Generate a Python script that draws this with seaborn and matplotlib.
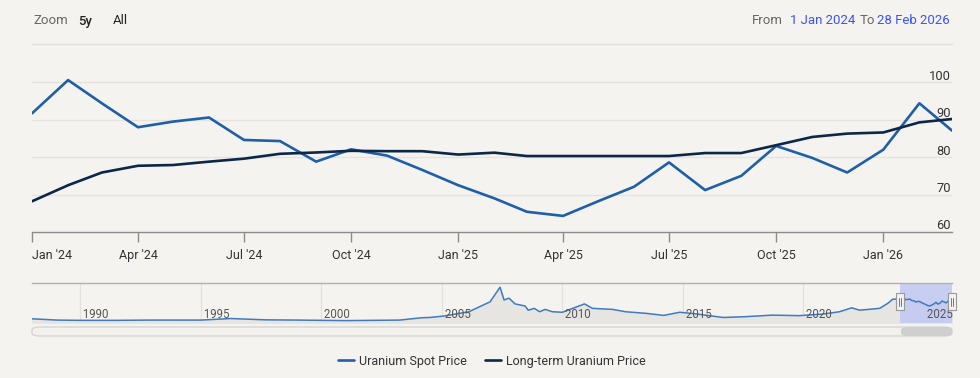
import matplotlib
matplotlib.use("Agg")
import matplotlib.pyplot as plt
import matplotlib.dates as mdates
import matplotlib.transforms as mtransforms
from matplotlib.patches import FancyBboxPatch, Rectangle
import seaborn as sns
import pandas as pd
import numpy as np

# ---------------- data ----------------
months = pd.date_range("2024-01-01", "2026-03-01", freq="MS")
spot_price = [91.7, 100.6, 94.4, 88.0, 89.5, 90.6, 84.6, 84.3, 78.8, 82.1, 80.4, 76.6,
              72.5, 69.0, 65.4, 64.3, 68.2, 72.1, 78.6, 71.2, 75.0, 83.0, 79.8, 75.9,
              82.0, 94.4, 87.1]
long_term_price = [68.2, 72.5, 75.9, 77.7, 77.9, 78.8, 79.6, 80.9, 81.25, 81.7, 81.6, 81.6,
                   80.7, 81.2, 80.3, 80.3, 80.3, 80.3, 80.3, 81.1, 81.1, 83.2, 85.4, 86.3,
                   86.6, 89.3, 90.2]
series_names = ["Uranium Spot Price", "Long-term Uranium Price"]
series_colors = ["#1f5fa8", "#0c2747"]

xtick_dates = pd.date_range("2024-01-01", "2026-01-01", freq="QS")
xtick_labels = ["Jan '24", "Apr '24", "Jul '24", "Oct '24", "Jan '25", "Apr '25",
                "Jul '25", "Oct '25", "Jan '26"]
ytick_values = [60, 70, 80, 90, 100]

# navigator (long history of spot price)
nav_dates = ["1988-01-01", "1989-01-15", "1990-01-01", "1991-06-01", "1992-11-01",
             "1995-01-01", "1996-04-01", "1997-09-01", "1999-01-15", "2001-01-01",
             "2003-04-01", "2004-03-01", "2004-07-01", "2005-01-15", "2006-02-15",
             "2007-01-01", "2007-06-01", "2007-08-01", "2007-10-15", "2008-01-15",
             "2008-06-15", "2008-08-01", "2008-11-01", "2009-01-20", "2009-04-15",
             "2009-08-01", "2010-01-01", "2010-12-01", "2011-04-01", "2012-02-01",
             "2012-08-15", "2013-06-15", "2014-03-15", "2014-11-15", "2015-07-15",
             "2016-09-01", "2017-08-01", "2018-09-15", "2019-11-01", "2020-10-15",
             "2021-07-01", "2022-01-01", "2022-05-01", "2023-03-01", "2023-07-01",
             "2023-09-15", "2023-12-15"]
nav_values = [15, 10, 9, 9, 10, 10, 16, 11, 10, 8,
              10, 19, 20, 25, 42, 80, 136, 87, 94, 72,
              64, 48, 55, 42, 51, 42, 40, 72, 55, 51,
              42, 36, 28, 40, 34, 20, 23, 29, 27, 33,
              42, 57, 48, 55, 74, 90, 91]
nav_year_ticks = [1990, 1995, 2000, 2005, 2010, 2015, 2020, 2025]

# ---------------- style ----------------
BG = "#f4f3ef"
sns.set_theme(style="white")
plt.rcParams["font.family"] = ["Roboto", "DejaVu Sans"]
plt.rcParams["figure.facecolor"] = BG
plt.rcParams["axes.facecolor"] = BG

W, H = 980, 378
fig = plt.figure(figsize=(W / 100, H / 100), dpi=100)
fig.patch.set_facecolor(BG)

def fx(px):
    return px / W

def fy(py):
    return 1 - py / H

# ---------------- main axes ----------------
ax = fig.add_axes([fx(32), fy(232), fx(952) - fx(32), fy(64) - fy(232)])
ax.set_facecolor(BG)

df = pd.DataFrame({
    "date": list(months) * 2,
    "price": spot_price + long_term_price,
    "series": [series_names[0]] * len(months) + [series_names[1]] * len(months),
})
sns.lineplot(data=df, x="date", y="price", hue="series", hue_order=series_names,
             palette=series_colors, linewidth=1.9, ax=ax, legend=True)

ax.set_xlim(pd.Timestamp("2024-01-01"), pd.Timestamp("2026-03-01"))
ax.set_ylim(60, 104.9)
ax.set_xlabel("")
ax.set_ylabel("")

for v in ytick_values[1:]:
    ax.axhline(v, color="#e4e3df", linewidth=0.9, zorder=0)

for s in ["top", "left", "right"]:
    ax.spines[s].set_visible(False)
ax.spines["bottom"].set_color("#8c8c8c")
ax.spines["bottom"].set_linewidth(1.0)

ax.set_xticks(xtick_dates)
ax.set_xticklabels(xtick_labels)
ax.tick_params(axis="x", bottom=True, direction="out", length=7, width=1, color="#8c8c8c",
               pad=5, labelsize=9, labelcolor="#333333")
ax.get_xticklabels()[0].set_horizontalalignment("left")

ax.yaxis.tick_right()
ax.set_yticks(ytick_values)
ax.set_yticklabels([str(v) for v in ytick_values])
ax.tick_params(axis="y", length=0, pad=-1, labelsize=9.3, labelcolor="#333333")
offset = mtransforms.ScaledTranslation(0, 5.5 / 72, fig.dpi_scale_trans)
for lab in ax.get_yticklabels():
    lab.set_horizontalalignment("right")
    lab.set_transform(lab.get_transform() + offset)

handles, labels = ax.get_legend_handles_labels()
ax.get_legend().remove()
fig.legend(handles, labels, loc="center", bbox_to_anchor=(0.502, fy(361)), ncol=2,
           frameon=False, fontsize=9, handlelength=1.25, handletextpad=0.4,
           columnspacing=1.5, labelcolor="#333333")

# ---------------- navigator ----------------
nav = fig.add_axes([fx(32), fy(322.7), fx(952) - fx(32), fy(283.3) - fy(322.7)])
nav.set_facecolor(BG)
nav_df = pd.DataFrame({"date": pd.to_datetime(nav_dates + [str(d.date()) for d in months]),
                       "price": nav_values + spot_price})
nav.fill_between(nav_df["date"], nav_df["price"], 0, color="#e6e5e2", zorder=1)
sns.lineplot(data=nav_df, x="date", y="price", color="#3f7bc0", linewidth=1.1,
             ax=nav, zorder=3)
nav.set_xlim(pd.Timestamp("1988-01-01"), pd.Timestamp("2026-03-01"))
nav.set_ylim(0, 151)
nav.set_xlabel("")
nav.set_ylabel("")
nav.set_xticks([])
nav.set_yticks([])
for s in ["left", "right", "bottom"]:
    nav.spines[s].set_visible(False)
nav.spines["top"].set_color("#b0b0b0")
nav.spines["top"].set_linewidth(1.0)

blend = mtransforms.blended_transform_factory(nav.transData, nav.transAxes)
for yr in nav_year_ticks:
    d = pd.Timestamp(f"{yr}-01-01")
    if yr != 2025:
        nav.axvline(d, color="#e2e1dd", linewidth=0.9, zorder=0)
    nav.text(mdates.date2num(d), 0.2, f" {yr}", transform=blend, fontsize=8.3,
             color="#555555", va="center", ha="left", zorder=4)

sel_start = pd.Timestamp("2024-01-01")
sel_end = pd.Timestamp("2026-03-01")
nav.axvspan(sel_start, sel_end, color="#c1c7f3", alpha=0.85, zorder=2, linewidth=0)
fig.canvas.draw()
for d in [sel_start, sel_end]:
    xd = mdates.date2num(d)
    disp_x = nav.transData.transform((xd, 0))[0]
    fig_x = disp_x / fig.bbox.width
    r = Rectangle((fig_x - fx(4), fy(310)), fx(8), fy(293) - fy(310),
                  facecolor="#f2f2f2", edgecolor="#999999", linewidth=0.8,
                  transform=fig.transFigure, zorder=5)
    fig.patches.append(r)
    for dx in (-1.3, 1.3):
        fig.lines.append(plt.Line2D([fig_x + fx(dx), fig_x + fx(dx)], [fy(305.5), fy(297.5)],
                                    transform=fig.transFigure, color="#777777",
                                    linewidth=0.7, zorder=6))

# scrollbar
fig.patches.append(FancyBboxPatch((fx(32), fy(336)), fx(952) - fx(32), fy(327) - fy(336),
                                  boxstyle="round,pad=0,rounding_size=0.008",
                                  transform=fig.transFigure, facecolor="#f2f1ee",
                                  edgecolor="#d2d2d2", linewidth=0.9))
fig.patches.append(FancyBboxPatch((fx(901), fy(336)), fx(952) - fx(901), fy(327) - fy(336),
                                  boxstyle="round,pad=0,rounding_size=0.008",
                                  transform=fig.transFigure, facecolor="#cfcfcf",
                                  edgecolor="none"))

# ---------------- header ----------------
fig.lines.append(plt.Line2D([fx(32), fx(952)], [fy(44), fy(44)], transform=fig.transFigure,
                            color="#e0dfdb", linewidth=1.0))
fig.text(fx(33), fy(21), "Zoom", fontsize=9.5, color="#666666", va="center", ha="left")
fig.text(fx(78), fy(21), "5y", fontsize=9.5, color="#222222", va="center", ha="left",
         fontweight="medium")
fig.text(fx(113), fy(21), "All", fontsize=9.5, color="#222222", va="center", ha="left")
fig.text(fx(752), fy(21), "From", fontsize=9.5, color="#666666", va="center", ha="left")
fig.text(fx(790), fy(21), "1 Jan 2024", fontsize=9.5, color="#3a55f5", va="center", ha="left")
fig.text(fx(860), fy(21), "To", fontsize=9.5, color="#666666", va="center", ha="left")
fig.text(fx(950), fy(21), "28 Feb 2026", fontsize=9.5, color="#3a55f5", va="center",
         ha="right")

fig.savefig("out.png", dpi=100, facecolor=BG)
